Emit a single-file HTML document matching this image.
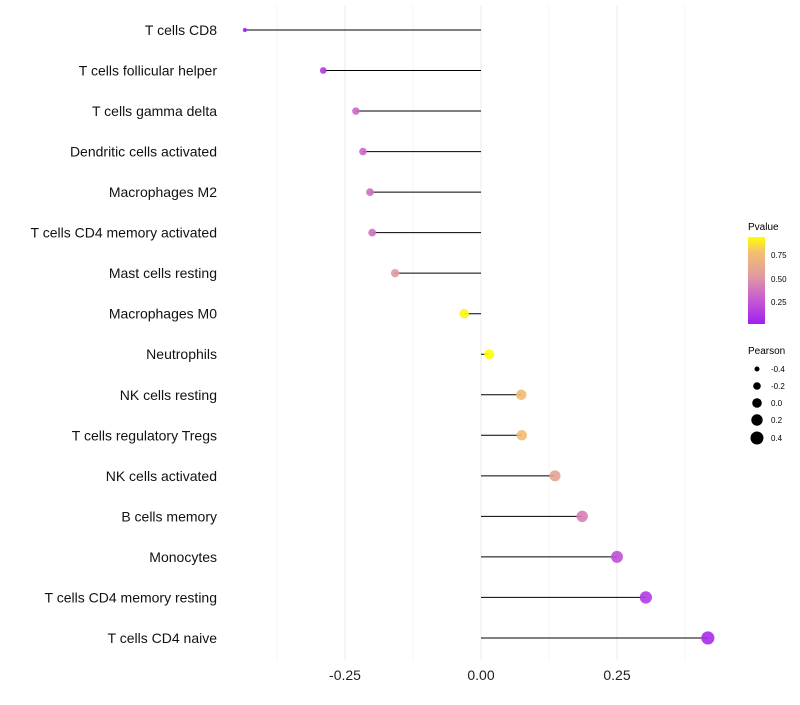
<!DOCTYPE html>
<html><head><meta charset="utf-8"><style>
body{margin:0;background:#fff;font-family:"Liberation Sans",sans-serif}
</style></head><body>
<svg id="c" width="800" height="700" xmlns="http://www.w3.org/2000/svg">
<defs><linearGradient id="g" x1="0" y1="1" x2="0" y2="0">
<stop offset="0" stop-color="#a020f0"/><stop offset="0.3" stop-color="#c860d0"/><stop offset="0.55" stop-color="#e09aa0"/><stop offset="0.83" stop-color="#f5c070"/><stop offset="1" stop-color="#ffff00"/>
</linearGradient></defs>
<g id="grid"></g><g id="marks"></g><g id="labels"></g>
<g>
<text x="748" y="230" font-size="10">Pvalue</text>
<rect x="748" y="237" width="17" height="87" fill="url(#g)"/>
<text x="771" y="258" font-size="8">0.75</text>
<text x="771" y="282" font-size="8">0.50</text>
<text x="771" y="305" font-size="8">0.25</text>
</g>
<g>
<text x="748" y="354" font-size="10">Pearson</text>
<circle cx="757" cy="369" r="2.5"/><text x="771" y="372" font-size="8">-0.4</text>
<circle cx="757" cy="386" r="3.8"/><text x="771" y="389" font-size="8">-0.2</text>
<circle cx="757" cy="403" r="4.8"/><text x="771" y="406" font-size="8">0.0</text>
<circle cx="757" cy="420" r="5.7"/><text x="771" y="423" font-size="8">0.2</text>
<circle cx="757" cy="438" r="6.5"/><text x="771" y="441" font-size="8">0.4</text>
</g>
</svg>
<script>
const categories=["T cells CD8","T cells follicular helper","T cells gamma delta","Dendritic cells activated","Macrophages M2","T cells CD4 memory activated","Mast cells resting","Macrophages M0","Neutrophils","NK cells resting","T cells regulatory  Tregs ","NK cells activated","B cells memory","Monocytes","T cells CD4 memory resting","T cells CD4 naive"];
const pearson=[-0.434,-0.290,-0.230,-0.217,-0.204,-0.200,-0.158,-0.031,0.015,0.074,0.075,0.136,0.186,0.250,0.303,0.417];
const pvalue=[0.01,0.12,0.3,0.3,0.33,0.33,0.5,0.9,0.93,0.72,0.72,0.55,0.4,0.2,0.12,0.05];
const xTicks=[-0.25,0,0.25];
const xTickLabels=["-0.25","0.00","0.25"];
const NS="http://www.w3.org/2000/svg";
const x=v=>481+v*544;
const y=i=>30+i*40.53;
const stops=[[0,[160,32,240]],[0.27,[200,96,208]],[0.5,[224,154,160]],[0.75,[245,192,112]],[0.92,[255,255,0]]];
function col(p){for(let i=1;i<stops.length;i++){if(p<=stops[i][0]){const a=stops[i-1],b=stops[i],t=(p-a[0])/(b[0]-a[0]);return "rgb("+a[1].map((c,k)=>Math.round(c+(b[1][k]-c)*t)).join(",")+")";}}return "rgb(255,255,0)";}
const rad=v=>Math.sqrt(Math.max(1.5,6.25+(v+0.4)*45));
function mk(t,a,p){const e=document.createElementNS(NS,t);for(const k in a)e.setAttribute(k,a[k]);p.appendChild(e);return e;}
const grid=document.getElementById('grid'),marks=document.getElementById('marks'),labels=document.getElementById('labels');
[-0.375,-0.125,0.125,0.375].forEach(v=>{const l=mk('line',{x1:x(v),x2:x(v),y1:5,y2:660,stroke:'#f4f4f4','stroke-width':1},grid);

});
xTicks.forEach((v,i)=>{const l=mk('line',{x1:x(v),x2:x(v),y1:5,y2:660,stroke:'#ebebeb','stroke-width':1},grid);


const t=mk('text',{x:x(v),y:680,'font-size':14,'text-anchor':'middle',fill:'#222'},labels);t.textContent=xTickLabels[i];

});
categories.forEach((c,i)=>{
const t=mk('text',{x:217,y:y(i)+5,'font-size':14,'text-anchor':'end',fill:'#111'},labels);t.textContent=c;


const l=mk('line',{x1:x(0),x2:x(pearson[i]),y1:y(i),y2:y(i),stroke:'#000','stroke-width':1},marks);


const d=mk('circle',{cx:x(pearson[i]),cy:y(i),r:rad(pearson[i]),fill:col(pvalue[i]),'fill-opacity':0.9},marks);


});
</script>
</body></html>
